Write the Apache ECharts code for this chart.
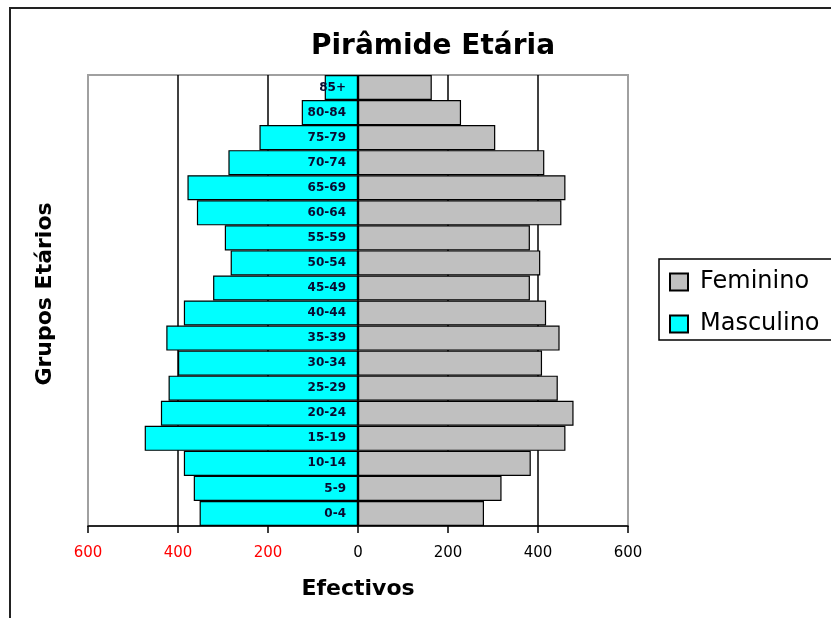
<!DOCTYPE html>
<html>
<head>
<meta charset="utf-8">
<script src="https://cdn.jsdelivr.net/npm/echarts@6/dist/echarts.min.js"></script>
<style>
html,body{margin:0;padding:0;background:#fff;}
#chart{width:831px;height:618px;}
</style>
</head>
<body>
<div id="chart"></div>
<script>
const categories = ['0-4','5-9','10-14','15-19','20-24','25-29','30-34','35-39','40-44','45-49','50-54','55-59','60-64','65-69','70-74','75-79','80-84','85+'];
const masculino = [352, 365, 387, 474, 438, 421, 400, 426, 387, 322, 283, 296, 358, 379, 288, 219, 125, 74];
const feminino = [280, 319, 384, 461, 479, 444, 409, 448, 418, 382, 405, 382, 452, 461, 414, 305, 229, 164];
const xTicks = [-600, 600, 200];

const FONT = 'DejaVu Sans';
const chart = echarts.init(document.getElementById('chart'), null, {renderer: 'canvas'});

chart.setOption({
  backgroundColor: '#ffffff',
  animation: false,
  title: {
    text: 'Pirâmide Etária',
    left: 428,
    top: 28,
    textAlign: 'center',
    textStyle: {fontFamily: FONT, fontSize: 28, fontWeight: 'bold', color: '#000'}
  },
  legend: {
    orient: 'vertical',
    left: 659,
    top: 259,
    padding: [11, 40, 4, 10],
    itemGap: 18,
    itemWidth: 18,
    itemHeight: 17,
    icon: 'rect',
    borderColor: '#000',
    borderWidth: 1.5,
    data: ['Feminino', 'Masculino'],
    textStyle: {fontFamily: FONT, fontSize: 24, color: '#000', padding: [0, 0, 0, 7]}
  },
  grid: {
    left: 88, right: 203, top: 75, bottom: 92,
    show: true,
    borderColor: '#a0a0a0',
    borderWidth: 2,
    backgroundColor: '#fff'
  },
  xAxis: {
    type: 'value',
    min: xTicks[0],
    max: xTicks[1],
    interval: xTicks[2],
    name: 'Efectivos',
    nameLocation: 'middle',
    nameGap: 52,
    nameTextStyle: {fontFamily: FONT, fontSize: 22, fontWeight: 'bold', color: '#000'},
    axisLine: {show: true, onZero: false, lineStyle: {color: '#000', width: 1.5}},
    axisTick: {show: true, length: 7, lineStyle: {color: '#000', width: 1.5}},
    axisLabel: {
      margin: 20,
      fontFamily: FONT,
      fontSize: 15,
      formatter: v => String(Math.abs(v)),
      color: v => (Number(v) < 0 ? '#ff0000' : '#000000')
    },
    splitLine: {show: true, showMinLine: false, showMaxLine: false, lineStyle: {color: '#000', width: 1.5}}
  },
  yAxis: {
    type: 'category',
    data: categories,
    axisLine: {show: false},
    axisTick: {show: false},
    axisLabel: {show: false},
    splitLine: {show: false}
  },
  graphic: [
    {
      type: 'rect',
      z: -10,
      silent: true,
      shape: {x: 10, y: 8, width: 1000, height: 1000},
      style: {fill: 'none', stroke: '#222', lineWidth: 2}
    },
    {
      type: 'text',
      x: 45,
      y: 294,
      rotation: Math.PI / 2,
      silent: true,
      style: {
        text: 'Grupos Etários',
        fontFamily: FONT,
        fontSize: 22,
        fontWeight: 'bold',
        fill: '#000',
        align: 'center',
        verticalAlign: 'middle'
      }
    }
  ],
  series: [
    {
      name: 'Feminino',
      type: 'bar',
      stack: 'total',
      barCategoryGap: '0%',
      data: feminino,
      itemStyle: {color: '#c0c0c0', borderColor: '#000', borderWidth: 1.2}
    },
    {
      name: 'Masculino',
      type: 'bar',
      stack: 'total',
      barCategoryGap: '0%',
      data: masculino.map(v => -v),
      itemStyle: {color: '#00ffff', borderColor: '#000', borderWidth: 1.2},
      label: {
        show: true,
        position: 'insideRight',
        distance: 12,
        formatter: '{b}',
        fontFamily: FONT,
        fontSize: 12,
        fontWeight: 'bold',
        color: '#0a0a30'
      }
    }
  ]
});
</script>
</body>
</html>
